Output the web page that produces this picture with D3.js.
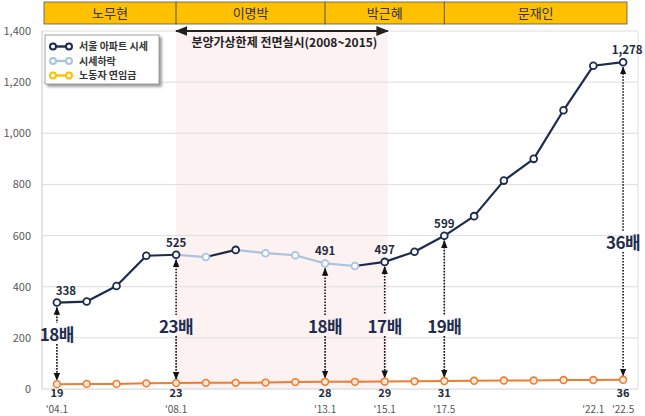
<!DOCTYPE html>
<html><head><meta charset="utf-8">
<script src="https://cdn.jsdelivr.net/npm/d3@7"></script>
<style>
html,body{margin:0;padding:0;background:#fff;}
svg{display:block;font-family:"Noto Sans CJK KR","Noto Sans",sans-serif;}
</style></head>
<body><svg id="c" width="645" height="416"></svg>
<script>
// ---- data ----
const periods = ["'04.1","","","","'08.1","","","","","'13.1","","'15.1","","'17.5","","","","","'22.1","'22.5"];
const seoulPrice = [338,342,403,521,525,516,544,531,523,491,481,497,537,599,676,815,900,1090,1264,1278];
const wage = [19,20,20,22,23,24,24,25,27,28,28,29,30,31,32,33,33,35,35,36];
const markedIdx = [0,4,9,11,13,19];
const ratioLabels = ["18배","23배","18배","17배","19배","36배"];
const presidents = ["노무현","이명박","박근혜","문재인"];
const presidentStart = [0,4,9,13];
const capStart = 4, capEnd = 11;
const capLabel = "분양가상한제 전면실시(2008~2015)";
const legendNames = ["서울 아파트 시세","시세하락","노동자 연임금"];
const yTicks = [0,200,400,600,800,1000,1200,1400];

// ---- styles ----
const NAVY = "#1b2a4e", LIGHT = "#a7c3df", ORANGE = "#ed7d31", GOLD = "#ffc000";
const svg = d3.select("#c");
const L = 42, R = 638, T = 31, B = 389;
const idx = d3.range(periods.length);
const x = d3.scalePoint().domain(idx).range([L, R]).padding(0.5);
const y = d3.scaleLinear().domain([0,1400]).range([B, T]);

// shading
svg.append("rect").attr("x", x(capStart)).attr("y", T).attr("width", x(capEnd)+3 - x(capStart))
  .attr("height", B - T).attr("fill", "#fdf2f2");

// grid
svg.append("g").selectAll("line").data(yTicks.slice(1)).join("line")
  .attr("x1", L).attr("x2", R).attr("y1", d=>y(d)).attr("y2", d=>y(d))
  .attr("stroke", "#dedede").attr("stroke-width", 1);
svg.append("line").attr("x1", R).attr("x2", R).attr("y1", T).attr("y2", B).attr("stroke", "#dedede");
svg.append("line").attr("x1", L).attr("x2", L).attr("y1", T).attr("y2", B).attr("stroke", "#c8c8c8");
svg.append("line").attr("x1", L).attr("x2", R).attr("y1", B).attr("y2", B).attr("stroke", "#d0d0d0");

// y axis labels
const yAxis = d3.axisLeft(y).tickValues(yTicks).tickSize(0).tickPadding(11).tickFormat(d3.format(","));
const gy = svg.append("g").attr("transform", `translate(${L},0)`).call(yAxis);
gy.select(".domain").remove();
gy.selectAll("text").attr("font-size", 11).attr("fill", "#595959").attr("font-family", "'Noto Sans CJK KR'");

// x labels
svg.append("g").selectAll("text").data(idx).join("text")
  .attr("x", d=>x(d)).attr("y", 412.5).attr("text-anchor", "middle")
  .attr("font-size", 10).attr("fill", "#555").text(d=>periods[d]);

// header bar
const hL = 44, hR = 627;
const bounds = presidentStart.map(i=>i===0?hL:x(i)).concat([hR]);
const hg = svg.append("g");
presidents.forEach((p,i)=>{
  hg.append("rect").attr("x", bounds[i]).attr("y", 2).attr("width", bounds[i+1]-bounds[i]).attr("height", 22)
    .attr("fill", GOLD).attr("stroke", "#555").attr("stroke-width", 0.8);
  hg.append("text").attr("x", (bounds[i]+bounds[i+1])/2).attr("y", 17.5).attr("text-anchor","middle")
    .attr("font-size", 13).attr("fill", "#333").text(p);
});

// cap arrow
const defs = svg.append("defs");
defs.append("marker").attr("id","ah").attr("viewBox","0 0 10 10").attr("refX",9).attr("refY",5)
  .attr("markerWidth",7).attr("markerHeight",7).attr("orient","auto-start-reverse")
  .append("path").attr("d","M0,1 L10,5 L0,9 Z").attr("fill","#222");
svg.append("line").attr("x1", x(capStart)).attr("x2", x(capEnd)+3).attr("y1", 31).attr("y2", 31)
  .attr("stroke","#222").attr("stroke-width",1.8).attr("marker-start","url(#ah)").attr("marker-end","url(#ah)");
svg.append("text").attr("x", (x(capStart)+x(capEnd))/2+4).attr("y", 47).attr("text-anchor","middle")
  .attr("font-size", 12).attr("font-weight","bold").attr("fill","#222").text(capLabel);

// dotted double arrows and ratio labels
const ratioY = [211, 242, 242, 242, 242, 571];
defs.append("marker").attr("id","sh").attr("viewBox","0 0 10 10").attr("refX",9).attr("refY",5)
  .attr("markerWidth",5).attr("markerHeight",5).attr("orient","auto-start-reverse")
  .append("path").attr("d","M0,1 L10,5 L0,9 Z").attr("fill","#111");
markedIdx.forEach((i,k)=>{
  const cx = x(i), y1 = y(seoulPrice[i]) + 5, y2 = y(wage[i]) - 4;
  const ly = y(ratioY[k]);
  const segs = [[y1, ly-12],[ly+9, y2]];
  segs.forEach((s,j)=>{
    const ln = svg.append("line").attr("x1",cx).attr("x2",cx).attr("y1",s[0]).attr("y2",s[1])
      .attr("stroke","#111").attr("stroke-width",1.6).attr("stroke-dasharray","1.6,1.4");
    if (j===0) ln.attr("marker-start","url(#sh)"); else ln.attr("marker-end","url(#sh)");
  });
  svg.append("text").attr("x", cx).attr("y", ly+6).attr("text-anchor","middle")
    .attr("font-size", 17).attr("font-weight","bold").attr("fill","#1f2d50")
    .attr("letter-spacing","-0.5").text(ratioLabels[k]);
});

// wage line
svg.append("path").datum(idx).attr("fill","none").attr("stroke",ORANGE).attr("stroke-width",2)
  .attr("d", d3.line().x(i=>x(i)).y(i=>y(wage[i])));
svg.append("g").selectAll("circle").data(idx).join("circle")
  .attr("cx", i=>x(i)).attr("cy", i=>y(wage[i])).attr("r",3.4)
  .attr("fill","#fde9d9").attr("stroke",ORANGE).attr("stroke-width",1.6);

// price line, segments coloured by direction
const segColor = i => seoulPrice[i+1] < seoulPrice[i] ? LIGHT : NAVY;
svg.append("g").selectAll("line").data(idx.slice(0,-1)).join("line")
  .attr("x1", i=>x(i)).attr("y1", i=>y(seoulPrice[i])).attr("x2", i=>x(i+1)).attr("y2", i=>y(seoulPrice[i+1]))
  .attr("stroke", segColor).attr("stroke-width", 2.2);
svg.append("g").selectAll("circle").data(idx).join("circle")
  .attr("cx", i=>x(i)).attr("cy", i=>y(seoulPrice[i])).attr("r",3.4)
  .attr("fill","#fff").attr("stroke", i=> i>0 && seoulPrice[i] < seoulPrice[i-1] ? LIGHT : NAVY).attr("stroke-width",1.8);

// value labels
const fmt = d3.format(",");
markedIdx.forEach((i,k)=>{
  const dx = k===0 ? 9 : (k===markedIdx.length-1 ? 4 : 0);
  svg.append("text").attr("x", x(i)+dx).attr("y", y(seoulPrice[i]) - 8).attr("text-anchor","middle")
    .attr("font-size", 11.5).attr("font-weight","bold").attr("fill","#222a3c").text(fmt(seoulPrice[i]));
  svg.append("text").attr("x", x(i)).attr("y", 396.5).attr("text-anchor","middle")
    .attr("font-size", 11).attr("font-weight","bold").attr("fill","#222a3c").text(wage[i]);
});

// legend
const lg = svg.append("g");
defs.append("filter").attr("id","sd").attr("x","-10%").attr("y","-10%").attr("width","130%").attr("height","140%")
  .append("feDropShadow").attr("dx",2.5).attr("dy",2.5).attr("stdDeviation",1.2).attr("flood-color","#777").attr("flood-opacity",0.7);
lg.append("rect").attr("x",45).attr("y",35).attr("width",114).attr("height",49)
  .attr("fill","#fff").attr("stroke","#8c8c8c").attr("stroke-width",0.8).attr("filter","url(#sd)");
const lcol = [NAVY, LIGHT, GOLD];
legendNames.forEach((n,i)=>{
  const ly = 46.5 + i*14.5;
  lg.append("line").attr("x1",53).attr("x2",69).attr("y1",ly).attr("y2",ly).attr("stroke",lcol[i]).attr("stroke-width",2.4);
  [53,69].forEach(cx=>lg.append("circle").attr("cx",cx).attr("cy",ly).attr("r",3)
    .attr("fill","#fff").attr("stroke",lcol[i]).attr("stroke-width",2));
  lg.append("text").attr("x",79).attr("y",ly+3.6).attr("font-size",10).attr("font-weight","bold")
    .attr("fill","#333").text(n);
});
</script></body></html>
